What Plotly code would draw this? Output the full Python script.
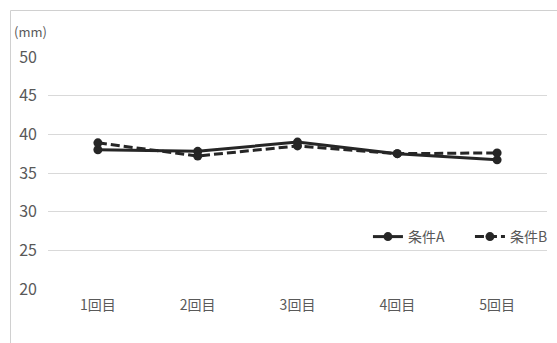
import plotly.graph_objects as go

categories = ["1回目", "2回目", "3回目", "4回目", "5回目"]
series_a = [38.0, 37.8, 39.0, 37.5, 36.7]
series_b = [38.9, 37.2, 38.5, 37.5, 37.6]
y_ticks = [20, 25, 30, 35, 40, 45, 50]

FONT = "Noto Sans CJK JP"
TXT = "#595959"
LINE = "#262626"

fig = go.Figure()
fig.add_trace(go.Scatter(x=categories, y=series_a, name="条件A", mode="lines+markers",
                         line=dict(color=LINE, width=3),
                         marker=dict(symbol="circle", size=9, color=LINE)))
fig.add_trace(go.Scatter(x=categories, y=series_b, name="条件B", mode="lines+markers",
                         line=dict(color=LINE, width=3, dash="9px,4px"),
                         marker=dict(symbol="circle", size=9, color=LINE)))

W, H = 557, 343
L, R, T, B = 48, 10, 57, 54
pw, ph = W - L - R, H - T - B

def px_x(p):
    return (p - L) / pw

def px_y(p):
    return (H - B - p) / ph

fig.update_layout(
    width=W, height=H,
    margin=dict(l=L, r=R, t=T, b=B, autoexpand=False),
    paper_bgcolor="white", plot_bgcolor="white",
    font=dict(family=FONT, color=TXT),
    showlegend=True,
    legend=dict(orientation="h", x=1.05, xanchor="right", y=px_y(237), yanchor="middle",
                font=dict(size=14, color=TXT), bgcolor="rgba(0,0,0,0)",
                tracegroupgap=0, entrywidth=57),
    xaxis=dict(range=[-0.5, len(categories) - 0.5], showgrid=False, showline=False,
               zeroline=False, tickfont=dict(size=14, color=TXT), ticks="",
               ticklabelstandoff=6, automargin=False),
    yaxis=dict(range=[20, 50], tickvals=y_ticks, showgrid=True, gridcolor="#d9d9d9",
               gridwidth=1, zeroline=False, showline=False, ticks="",
               tickfont=dict(size=16, color=TXT), ticklabelstandoff=10, automargin=False),
    shapes=[dict(type="rect", xref="paper", yref="paper",
                 x0=px_x(10.5), x1=px_x(W + 20), y0=px_y(H + 20), y1=px_y(10.5),
                 line=dict(color="#d0d0d0", width=1), fillcolor="rgba(0,0,0,0)", layer="below")],
    annotations=[dict(text="(mm)", xref="paper", yref="paper", x=px_x(12), y=px_y(32),
                      xanchor="left", yanchor="middle", showarrow=False,
                      font=dict(size=13, color=TXT, family=FONT))],
)

fig.write_html("out.html")
